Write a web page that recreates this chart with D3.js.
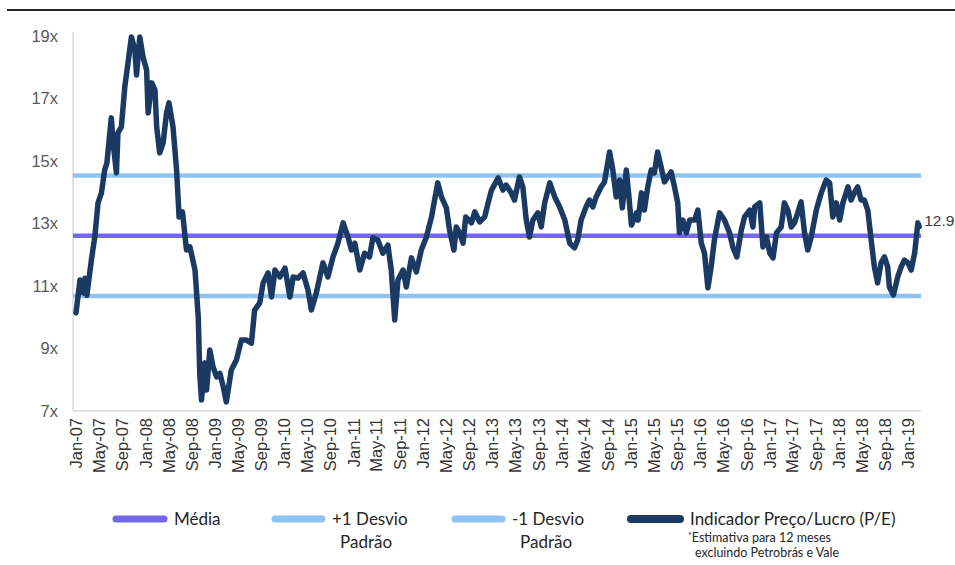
<!DOCTYPE html>
<html>
<head>
<meta charset="utf-8">
<script src="https://cdn.jsdelivr.net/npm/d3@7"></script>
<style>
  body { margin: 0; background: #fff; }
  svg { display: block; }
</style>
</head>
<body>
<div id="chart"></div>
<script>
// weekly-ish readings of the P/E line
const dates = [
  "2007-01-01","2007-01-22","2007-02-09","2007-02-18","2007-02-27","2007-03-23","2007-04-10","2007-04-27",
  "2007-05-15","2007-06-01","2007-06-13","2007-07-06","2007-07-14","2007-08-02","2007-08-10","2007-08-28",
  "2007-09-15","2007-10-02","2007-10-20","2007-11-07","2007-11-16","2007-12-03","2007-12-20","2008-01-08",
  "2008-01-16","2008-02-04","2008-02-21","2008-03-01","2008-03-17","2008-04-04","2008-04-22","2008-05-05",
  "2008-05-26","2008-06-14","2008-06-27","2008-07-15","2008-08-05","2008-08-23","2008-09-19","2008-10-06",
  "2008-10-14","2008-10-23","2008-11-10","2008-11-19","2008-12-06","2008-12-23","2009-01-11","2009-01-28",
  "2009-02-15","2009-03-03","2009-03-29","2009-04-25","2009-05-21","2009-06-17","2009-07-13","2009-07-30",
  "2009-08-26","2009-09-13","2009-10-09","2009-10-27","2009-11-14","2009-12-10","2010-01-06","2010-02-01",
  "2010-02-18","2010-03-15","2010-04-11","2010-05-07","2010-05-25","2010-06-20","2010-07-25","2010-08-20",
  "2010-09-16","2010-10-12","2010-11-08","2010-12-04","2010-12-22","2011-01-09","2011-02-04","2011-03-01",
  "2011-03-27","2011-04-14","2011-05-10","2011-06-06","2011-07-02","2011-07-20","2011-08-07","2011-08-24",
  "2011-09-20","2011-10-07","2011-11-03","2011-11-29","2011-12-25","2012-01-21","2012-02-17","2012-03-04",
  "2012-03-21","2012-04-09","2012-05-05","2012-05-22","2012-06-14","2012-06-26","2012-07-14","2012-08-01",
  "2012-08-15","2012-09-14","2012-10-02","2012-10-28","2012-11-23","2012-12-11","2012-12-29","2013-02-02",
  "2013-02-27","2013-03-16","2013-04-12","2013-04-29","2013-05-25","2013-06-12","2013-06-30","2013-07-17",
  "2013-08-04","2013-08-30","2013-09-17","2013-10-05","2013-11-01","2013-11-27","2013-12-23","2014-01-19",
  "2014-02-14","2014-03-11","2014-03-28","2014-04-15","2014-05-11","2014-05-29","2014-06-16","2014-07-03",
  "2014-07-29","2014-08-16","2014-09-12","2014-09-29","2014-10-17","2014-11-04","2014-11-18","2014-12-09",
  "2014-12-23","2015-01-05","2015-02-01","2015-02-09","2015-02-27","2015-03-14","2015-04-01","2015-04-19",
  "2015-05-06","2015-05-23","2015-06-10","2015-06-28","2015-07-15","2015-08-02","2015-08-20","2015-09-06",
  "2015-09-15","2015-10-03","2015-10-21","2015-11-08","2015-12-04","2015-12-21","2016-01-08","2016-01-25",
  "2016-02-12","2016-02-29","2016-03-17","2016-04-13","2016-05-09","2016-06-05","2016-06-22","2016-07-13",
  "2016-08-06","2016-08-23","2016-09-19","2016-10-06","2016-10-15","2016-11-11","2016-11-28","2016-12-16",
  "2017-01-03","2017-01-20","2017-02-07","2017-03-04","2017-03-21","2017-04-08","2017-04-26","2017-05-13",
  "2017-05-30","2017-06-17","2017-07-05","2017-07-22","2017-08-09","2017-09-05","2017-10-01","2017-10-27",
  "2017-11-14","2017-12-01","2017-12-19","2018-01-06","2018-01-23","2018-02-19","2018-03-07","2018-03-24",
  "2018-04-11","2018-04-29","2018-05-16","2018-06-03","2018-06-21","2018-07-08","2018-07-25","2018-08-12",
  "2018-08-30","2018-09-16","2018-09-25","2018-10-16","2018-11-08","2018-11-26","2018-12-13","2019-01-01",
  "2019-01-18","2019-02-05","2019-02-22","2019-03-01"
];
const peValues = [
  10.14,11.19,10.78,11.25,10.70,11.83,12.57,13.66,
  13.98,14.71,14.94,16.38,15.67,14.62,15.90,16.09,
  17.37,18.14,18.97,18.55,17.75,18.97,18.33,17.91,
  16.54,17.50,17.27,16.09,15.26,15.58,16.54,16.86,
  16.09,14.71,13.21,13.37,12.15,12.25,11.51,10.01,
  8.20,7.35,8.54,7.67,8.95,8.41,8.09,8.20,
  7.77,7.29,8.31,8.63,9.27,9.27,9.17,10.23,
  10.46,11.10,11.42,10.65,11.51,11.29,11.57,10.65,
  11.29,11.25,11.42,10.87,10.23,10.78,11.74,11.29,
  11.93,12.37,13.02,12.57,12.15,12.37,11.51,12.05,
  11.93,12.54,12.47,12.05,12.31,11.51,9.91,11.19,
  11.51,10.97,11.90,11.45,12.15,12.57,13.21,13.75,
  14.30,13.85,13.50,12.79,12.15,12.89,12.70,12.37,
  13.21,13.02,13.37,13.05,13.21,13.66,14.07,14.46,
  14.07,14.23,13.98,13.75,14.49,14.17,13.11,12.57,
  13.11,13.34,12.89,13.66,14.30,13.85,13.53,13.11,
  12.37,12.22,12.47,13.11,13.53,13.75,13.53,13.85,
  14.17,14.33,15.29,14.71,13.85,14.39,13.50,14.71,
  13.85,12.95,13.34,13.11,13.98,13.43,14.17,14.71,
  14.62,15.29,14.81,14.33,14.49,14.65,14.17,13.66,
  12.70,13.11,12.70,13.11,13.11,13.43,12.37,12.05,
  10.94,11.61,12.47,13.34,13.11,12.70,12.25,11.93,
  12.79,13.21,13.43,12.89,13.53,13.66,12.25,12.57,
  12.05,11.90,12.70,12.89,13.66,13.43,12.89,13.02,
  13.34,13.69,12.70,12.15,12.57,13.43,13.98,14.39,
  14.30,13.21,13.66,13.11,13.66,14.17,13.75,13.98,
  14.17,13.75,13.75,13.43,12.47,11.61,11.10,11.74,
  11.93,11.61,10.97,10.71,11.29,11.61,11.83,11.74,
  11.51,12.05,13.02,12.90
];
const yTicks = [7, 9, 11, 13, 15, 17, 19];
const media = 12.61;
const plusOneStd = 14.54;
const minusOneStd = 10.68;
const lastLabel = "12.9";
const legendNames = ["Média", "+1 Desvio|Padrão", "-1 Desvio|Padrão", "Indicador Preço/Lucro (P/E)"];
const footnote = ["Estimativa para 12 meses", "excluindo Petrobrás e Vale"];

const W = 955, H = 565;
const plotLeft = 73, plotRight = 921, plotTop = 32, plotBottom = 411;

const colors = {
  pe: "#1b3a63",
  media: "#7468e8",
  std: "#8fc4f0",
  axis: "#d9d9d9"
};

const parse = d3.timeParse("%Y-%m-%d");
const series = dates.map((d, i) => ({ date: parse(d), value: peValues[i] }));

const svg = d3.select("#chart").append("svg")
  .attr("width", W)
  .attr("height", H);

const x = d3.scaleTime()
  .domain([new Date(2007, 0, 1), new Date(2019, 0, 1)])
  .range([76, 908]);
const y = d3.scaleLinear()
  .domain([7, 19])
  .range([411, 36]);

// top rule
svg.append("line")
  .attr("x1", 7).attr("x2", W)
  .attr("y1", 10).attr("y2", 10)
  .attr("stroke", "#262626")
  .attr("stroke-width", 2);

// axes lines
svg.append("line")
  .attr("x1", plotLeft).attr("x2", plotLeft)
  .attr("y1", plotTop).attr("y2", plotBottom)
  .attr("stroke", colors.axis).attr("stroke-width", 1.5);
svg.append("line")
  .attr("x1", plotLeft).attr("x2", plotRight)
  .attr("y1", plotBottom).attr("y2", plotBottom)
  .attr("stroke", colors.axis).attr("stroke-width", 1.5);

const yAxis = svg.append("g")
  .attr("transform", "translate(" + (plotLeft - 15) + ",0)")
  .call(d3.axisLeft(y).tickValues(yTicks).tickSize(0).tickPadding(0).tickFormat(d => d + "x"));
yAxis.select(".domain").remove();
yAxis.selectAll("text")
  .attr("fill", "#595959")
  .style("font-family", "'Liberation Sans', Arial, sans-serif")
  .style("font-size", "16.5px");

const xAxis = svg.append("g")
  .attr("transform", "translate(0," + plotBottom + ")")
  .call(d3.axisBottom(x).ticks(d3.timeMonth.every(4)).tickSize(0).tickFormat(d3.timeFormat("%b-%y")));
xAxis.select(".domain").remove();
xAxis.selectAll("text")
  .attr("fill", "#333")
  .style("font-family", "'Liberation Sans', Arial, sans-serif")
  .style("font-size", "16.5px")
  .attr("text-anchor", "end")
  .attr("transform", "rotate(-90)")
  .attr("x", -7)
  .attr("y", 0)
  .attr("dy", "0.35em");

// reference lines
const refs = [
  { v: plusOneStd, c: colors.std },
  { v: minusOneStd, c: colors.std },
  { v: media, c: colors.media }
];
svg.selectAll(".ref")
  .data(refs)
  .enter()
  .append("line")
  .attr("class", "ref")
  .attr("x1", plotLeft).attr("x2", plotRight)
  .attr("y1", d => y(d.v)).attr("y2", d => y(d.v))
  .attr("stroke", d => d.c)
  .attr("stroke-width", 4.5);

const line = d3.line()
  .x(d => x(d.date))
  .y(d => y(d.value));

svg.append("path")
  .datum(series)
  .attr("d", line)
  .attr("fill", "none")
  .attr("stroke", colors.pe)
  .attr("stroke-width", 5.5)
  .attr("stroke-linejoin", "round")
  .attr("stroke-linecap", "round");

const last = series[series.length - 1];
svg.append("text")
  .attr("x", x(last.date) + 5)
  .attr("y", y(last.value) - 6)
  .attr("dy", "0.35em")
  .attr("fill", "#404040")
  .style("font-family", "'Liberation Sans', Arial, sans-serif")
  .style("font-size", "15.5px")
  .text(lastLabel);

// legend
const legendFont = "Lato, 'Open Sans', sans-serif";
const legendPos = [
  { x: 113, w: 54, c: colors.media, sw: 7 },
  { x: 272, w: 53, c: colors.std, sw: 7 },
  { x: 452, w: 53, c: colors.std, sw: 7 },
  { x: 628, w: 55, c: colors.pe, sw: 8 }
];
const legend = svg.append("g");
legendNames.forEach((name, i) => {
  const p = legendPos[i];
  legend.append("line")
    .attr("x1", p.x + 3).attr("x2", p.x + p.w - 3)
    .attr("y1", 519).attr("y2", 519)
    .attr("stroke", p.c)
    .attr("stroke-width", p.sw)
    .attr("stroke-linecap", "round");
  const parts = name.split("|");
  const t = legend.append("text")
    .attr("fill", "#262626")
    .style("font-family", legendFont)
    .style("font-size", "17px");
  t.append("tspan")
    .attr("x", p.x + p.w + 7)
    .attr("y", 525)
    .text(parts[0]);
  if (parts[1]) {
    t.append("tspan")
      .attr("x", p.x + p.w + 15)
      .attr("y", 548)
      .text(parts[1]);
  }
});
const fn1 = legend.append("text")
  .attr("x", 688).attr("y", 542)
  .attr("fill", "#262626")
  .style("font-family", legendFont)
  .style("font-size", "12.5px");
fn1.append("tspan")
  .attr("font-size", "9px")
  .attr("dy", -3)
  .text("*");
fn1.append("tspan")
  .attr("dy", 3)
  .text(footnote[0]);
legend.append("text")
  .attr("x", 695).attr("y", 557)
  .attr("fill", "#262626")
  .style("font-family", legendFont)
  .style("font-size", "12.5px")
  .text(footnote[1]);
</script>
</body>
</html>
